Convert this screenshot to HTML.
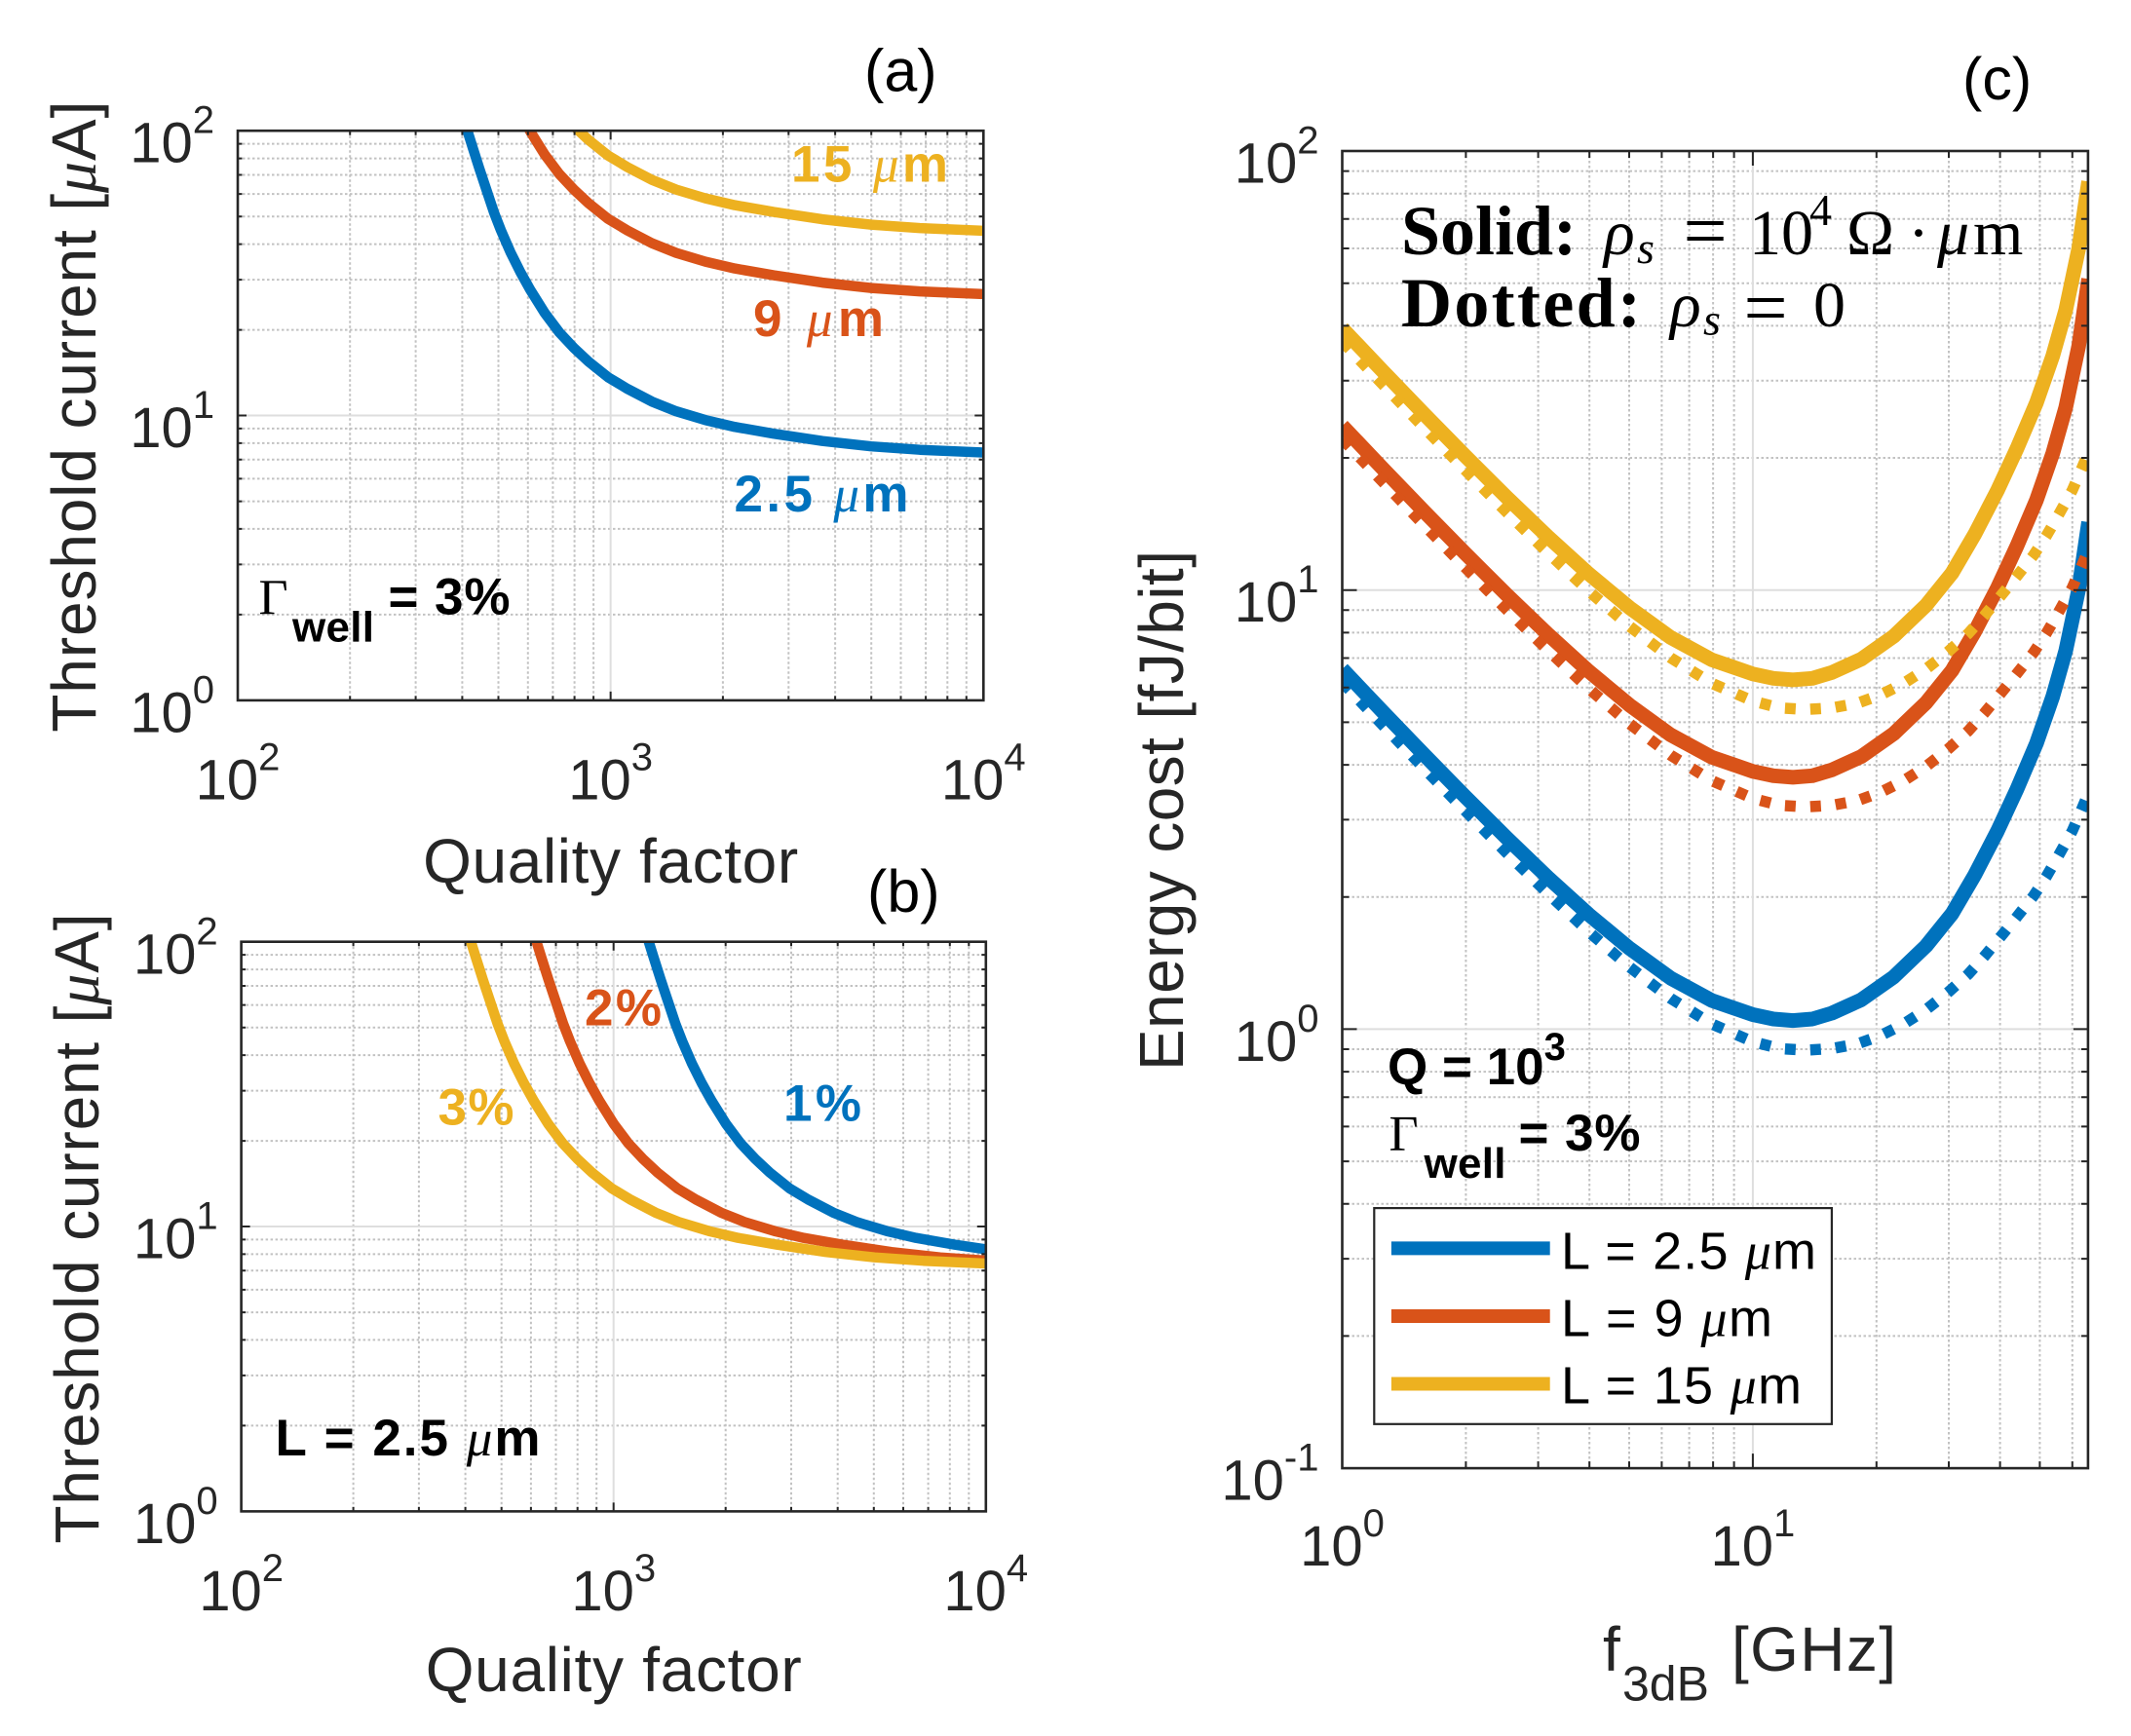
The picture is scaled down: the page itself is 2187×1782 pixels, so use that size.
<!DOCTYPE html>
<html><head><meta charset="utf-8">
<style>html,body{margin:0;padding:0;background:#fff}svg{display:block}</style>
</head><body>
<svg width="2187" height="1782" viewBox="0 0 2187 1782" xmlns="http://www.w3.org/2000/svg" font-family="'Liberation Sans', Arial, sans-serif">
<rect width="2187" height="1782" fill="#fff"/>
<defs>
<clipPath id="cA"><rect x="244" y="134.2" width="765.3" height="584.7"/></clipPath>
<clipPath id="cB"><rect x="247.6" y="966.7" width="764.2" height="584.7"/></clipPath>
<clipPath id="cC"><rect x="1377.5" y="155" width="765.4" height="1352.1"/></clipPath>
</defs>

<!-- ===== Panel (a) grid ===== -->
<path fill="none" stroke="#c2c2c2" stroke-width="2" stroke-dasharray="2.5 2.5" d="M359.2 134.2V718.9M426.6 134.2V718.9M474.4 134.2V718.9M511.5 134.2V718.9M541.8 134.2V718.9M567.4 134.2V718.9M589.6 134.2V718.9M609.1 134.2V718.9M741.9 134.2V718.9M809.3 134.2V718.9M857.1 134.2V718.9M894.2 134.2V718.9M924.5 134.2V718.9M950.1 134.2V718.9M972.3 134.2V718.9M991.8 134.2V718.9M244 630.9H1009.3M244 579.4H1009.3M244 542.9H1009.3M244 514.6H1009.3M244 491.4H1009.3M244 471.8H1009.3M244 454.9H1009.3M244 439.9H1009.3M244 338.6H1009.3M244 287.1H1009.3M244 250.6H1009.3M244 222.3H1009.3M244 199.1H1009.3M244 179.5H1009.3M244 162.6H1009.3M244 147.6H1009.3"/>
<path fill="none" stroke="#dedede" stroke-width="2" d="M626.65 134.2V718.9M244 426.55H1009.3"/>

<!-- ===== Panel (b) grid ===== -->
<path fill="none" stroke="#c2c2c2" stroke-width="2" stroke-dasharray="2.5 2.5" d="M362.6 966.7V1551.4M429.9 966.7V1551.4M477.6 966.7V1551.4M514.7 966.7V1551.4M544.9 966.7V1551.4M570.5 966.7V1551.4M592.7 966.7V1551.4M612.2 966.7V1551.4M744.7 966.7V1551.4M812 966.7V1551.4M859.7 966.7V1551.4M896.8 966.7V1551.4M927 966.7V1551.4M952.6 966.7V1551.4M974.8 966.7V1551.4M994.3 966.7V1551.4M247.6 1463.4H1011.8M247.6 1411.9H1011.8M247.6 1375.4H1011.8M247.6 1347.1H1011.8M247.6 1323.9H1011.8M247.6 1304.3H1011.8M247.6 1287.4H1011.8M247.6 1272.4H1011.8M247.6 1171.1H1011.8M247.6 1119.6H1011.8M247.6 1083.1H1011.8M247.6 1054.8H1011.8M247.6 1031.6H1011.8M247.6 1012H1011.8M247.6 995.1H1011.8M247.6 980.1H1011.8"/>
<path fill="none" stroke="#dedede" stroke-width="2" d="M629.7 966.7V1551.4M247.6 1259.05H1011.8"/>

<!-- ===== Panel (c) grid ===== -->
<path fill="none" stroke="#c2c2c2" stroke-width="2" stroke-dasharray="2.5 2.5" d="M1504.4 155V1507.1M1578.6 155V1507.1M1631.2 155V1507.1M1672 155V1507.1M1705.4 155V1507.1M1733.6 155V1507.1M1758.1 155V1507.1M1779.6 155V1507.1M1925.8 155V1507.1M2000 155V1507.1M2052.6 155V1507.1M2093.4 155V1507.1M2126.8 155V1507.1M1377.5 1371.4H2142.9M1377.5 1292.1H2142.9M1377.5 1235.8H2142.9M1377.5 1192.1H2142.9M1377.5 1156.4H2142.9M1377.5 1126.2H2142.9M1377.5 1100.1H2142.9M1377.5 1077H2142.9M1377.5 920.7H2142.9M1377.5 841.4H2142.9M1377.5 785.1H2142.9M1377.5 741.4H2142.9M1377.5 705.7H2142.9M1377.5 675.5H2142.9M1377.5 649.4H2142.9M1377.5 626.3H2142.9M1377.5 470H2142.9M1377.5 390.7H2142.9M1377.5 334.4H2142.9M1377.5 290.7H2142.9M1377.5 255H2142.9M1377.5 224.8H2142.9M1377.5 198.7H2142.9M1377.5 175.6H2142.9"/>
<path fill="none" stroke="#dedede" stroke-width="2" d="M1798.9 155V1507.1M1377.5 1056.4H2142.9M1377.5 605.7H2142.9"/>

<!-- ===== Panel (a) curves ===== -->
<g clip-path="url(#cA)" fill="none" stroke-width="10.5" stroke-linejoin="round">
<path transform="translate(244,134.2)" stroke="#0072BD" d="M230.7,-16 L235.7,0 L241,17 L248,39 L255,60 L263,84 L270,102 L280,125 L290,145 L300,163 L315,187 L330,207 L345,223 L360,237 L380,253 L400,265 L425,278 L450,288 L480,297 L510,304 L550,311 L600,318.5 L650,324 L700,327.5 L765,330.3 L780,331"/>
<path transform="translate(244,-28.4)" stroke="#D95319" d="M230.7,-16 L235.7,0 L241,17 L248,39 L255,60 L263,84 L270,102 L280,125 L290,145 L300,163 L315,187 L330,207 L345,223 L360,237 L380,253 L400,265 L425,278 L450,288 L480,297 L510,304 L550,311 L600,318.5 L650,324 L700,327.5 L765,330.3 L780,331"/>
<path transform="translate(244,-93.4)" stroke="#EDB120" d="M230.7,-16 L235.7,0 L241,17 L248,39 L255,60 L263,84 L270,102 L280,125 L290,145 L300,163 L315,187 L330,207 L345,223 L360,237 L380,253 L400,265 L425,278 L450,288 L480,297 L510,304 L550,311 L600,318.5 L650,324 L700,327.5 L765,330.3 L780,331"/>
</g>

<!-- ===== Panel (b) curves ===== -->
<g clip-path="url(#cB)" fill="none" stroke-width="10.5" stroke-linejoin="round">
<path transform="translate(314.9,966.7)" stroke="#D95319" d="M230.7,-16 L235.7,0 L241,17 L248,39 L255,60 L263,84 L270,102 L280,125 L290,145 L300,163 L315,187 L330,207 L345,223 L360,237 L380,253 L400,265 L425,278 L450,288 L480,297 L510,304 L550,311 L600,318.5 L650,324 L700,327.5 L765,330.3 L780,331"/>
<path transform="translate(430.1,966.7)" stroke="#0072BD" d="M230.7,-16 L235.7,0 L241,17 L248,39 L255,60 L263,84 L270,102 L280,125 L290,145 L300,163 L315,187 L330,207 L345,223 L360,237 L380,253 L400,265 L425,278 L450,288 L480,297 L510,304 L550,311 L600,318.5 L650,324 L700,327.5 L765,330.3 L780,331"/>
<path transform="translate(247.6,966.7)" stroke="#EDB120" d="M230.7,-16 L235.7,0 L241,17 L248,39 L255,60 L263,84 L270,102 L280,125 L290,145 L300,163 L315,187 L330,207 L345,223 L360,237 L380,253 L400,265 L425,278 L450,288 L480,297 L510,304 L550,311 L600,318.5 L650,324 L700,327.5 L765,330.3 L780,331"/>
</g>

<!-- ===== Panel (c) curves ===== -->
<g clip-path="url(#cC)" fill="none" stroke-linejoin="round">
<g stroke-width="15">
<path stroke="#0072BD" d="M1377.5,686.8 L1419.6,731.2 L1461.8,775 L1503.9,818 L1546.1,860 L1588.2,900.4 L1630.3,938.6 L1672.5,973.6 L1714.6,1004.1 L1756.8,1027 L1798.9,1041.5 L1820,1046 L1840,1047.6 L1860,1046 L1880,1040 L1910,1026.4 L1943.3,1003 L1976.7,971 L2003.3,938 L2026.7,898 L2050,853 L2070,810 L2090,763 L2106.7,715 L2120,668 L2133.3,605 L2143.5,536"/>
<path stroke="#D95319" transform="translate(0,-249.7)" d="M1377.5,686.8 L1419.6,731.2 L1461.8,775 L1503.9,818 L1546.1,860 L1588.2,900.4 L1630.3,938.6 L1672.5,973.6 L1714.6,1004.1 L1756.8,1027 L1798.9,1041.5 L1820,1046 L1840,1047.6 L1860,1046 L1880,1040 L1910,1026.4 L1943.3,1003 L1976.7,971 L2003.3,938 L2026.7,898 L2050,853 L2070,810 L2090,763 L2106.7,715 L2120,668 L2133.3,605 L2143.5,536"/>
<path stroke="#EDB120" transform="translate(0,-349.7)" d="M1377.5,686.8 L1419.6,731.2 L1461.8,775 L1503.9,818 L1546.1,860 L1588.2,900.4 L1630.3,938.6 L1672.5,973.6 L1714.6,1004.1 L1756.8,1027 L1798.9,1041.5 L1820,1046 L1840,1047.6 L1860,1046 L1880,1040 L1910,1026.4 L1943.3,1003 L1976.7,971 L2003.3,938 L2026.7,898 L2050,853 L2070,810 L2090,763 L2106.7,715 L2120,668 L2133.3,605 L2143.5,536"/>
</g>
<g stroke-width="11.5" stroke-dasharray="11 15">
<path stroke="#0072BD" d="M1377.5,700.3 L1419.6,744.8 L1461.8,789 L1503.9,832.5 L1546.1,875.3 L1588.2,916.8 L1630.3,956.3 L1672.5,992.7 L1714.6,1024.9 L1756.8,1051.1 L1798.9,1069.3 L1826.7,1076.4 L1853.3,1078 L1880,1076.4 L1906.7,1071.4 L1930,1063 L1953.3,1051.4 L1976.7,1036.4 L2000,1018 L2020,1000 L2036.7,981.4 L2053.3,961.4 L2070,941 L2086.7,920 L2100,900 L2113.3,877 L2126.7,853 L2136.7,830 L2143,815"/>
<path stroke="#D95319" transform="translate(0,-249.7)" d="M1377.5,700.3 L1419.6,744.8 L1461.8,789 L1503.9,832.5 L1546.1,875.3 L1588.2,916.8 L1630.3,956.3 L1672.5,992.7 L1714.6,1024.9 L1756.8,1051.1 L1798.9,1069.3 L1826.7,1076.4 L1853.3,1078 L1880,1076.4 L1906.7,1071.4 L1930,1063 L1953.3,1051.4 L1976.7,1036.4 L2000,1018 L2020,1000 L2036.7,981.4 L2053.3,961.4 L2070,941 L2086.7,920 L2100,900 L2113.3,877 L2126.7,853 L2136.7,830 L2143,815"/>
<path stroke="#EDB120" transform="translate(0,-349.7)" d="M1377.5,700.3 L1419.6,744.8 L1461.8,789 L1503.9,832.5 L1546.1,875.3 L1588.2,916.8 L1630.3,956.3 L1672.5,992.7 L1714.6,1024.9 L1756.8,1051.1 L1798.9,1069.3 L1826.7,1076.4 L1853.3,1078 L1880,1076.4 L1906.7,1071.4 L1930,1063 L1953.3,1051.4 L1976.7,1036.4 L2000,1018 L2020,1000 L2036.7,981.4 L2053.3,961.4 L2070,941 L2086.7,920 L2100,900 L2113.3,877 L2126.7,853 L2136.7,830 L2143,815"/>
</g>
</g>

<!-- ===== Ticks ===== -->
<path fill="none" stroke="#262626" stroke-width="2" d="M359.2 718.9v-4.5M359.2 134.2v4.5M426.6 718.9v-4.5M426.6 134.2v4.5M474.4 718.9v-4.5M474.4 134.2v4.5M511.5 718.9v-4.5M511.5 134.2v4.5M541.8 718.9v-4.5M541.8 134.2v4.5M567.4 718.9v-4.5M567.4 134.2v4.5M589.6 718.9v-4.5M589.6 134.2v4.5M609.1 718.9v-4.5M609.1 134.2v4.5M741.9 718.9v-4.5M741.9 134.2v4.5M809.3 718.9v-4.5M809.3 134.2v4.5M857.1 718.9v-4.5M857.1 134.2v4.5M894.2 718.9v-4.5M894.2 134.2v4.5M924.5 718.9v-4.5M924.5 134.2v4.5M950.1 718.9v-4.5M950.1 134.2v4.5M972.3 718.9v-4.5M972.3 134.2v4.5M991.8 718.9v-4.5M991.8 134.2v4.5M244 630.9h4.5M1009.3 630.9h-4.5M244 579.4h4.5M1009.3 579.4h-4.5M244 542.9h4.5M1009.3 542.9h-4.5M244 514.6h4.5M1009.3 514.6h-4.5M244 491.4h4.5M1009.3 491.4h-4.5M244 471.8h4.5M1009.3 471.8h-4.5M244 454.9h4.5M1009.3 454.9h-4.5M244 439.9h4.5M1009.3 439.9h-4.5M244 338.6h4.5M1009.3 338.6h-4.5M244 287.1h4.5M1009.3 287.1h-4.5M244 250.6h4.5M1009.3 250.6h-4.5M244 222.3h4.5M1009.3 222.3h-4.5M244 199.1h4.5M1009.3 199.1h-4.5M244 179.5h4.5M1009.3 179.5h-4.5M244 162.6h4.5M1009.3 162.6h-4.5M244 147.6h4.5M1009.3 147.6h-4.5M626.65 718.9v-9M626.65 134.2v9M244 426.55h9M1009.3 426.55h-9"/>
<path fill="none" stroke="#262626" stroke-width="2" d="M362.6 1551.4v-4.5M362.6 966.7v4.5M429.9 1551.4v-4.5M429.9 966.7v4.5M477.6 1551.4v-4.5M477.6 966.7v4.5M514.7 1551.4v-4.5M514.7 966.7v4.5M544.9 1551.4v-4.5M544.9 966.7v4.5M570.5 1551.4v-4.5M570.5 966.7v4.5M592.7 1551.4v-4.5M592.7 966.7v4.5M612.2 1551.4v-4.5M612.2 966.7v4.5M744.7 1551.4v-4.5M744.7 966.7v4.5M812 1551.4v-4.5M812 966.7v4.5M859.7 1551.4v-4.5M859.7 966.7v4.5M896.8 1551.4v-4.5M896.8 966.7v4.5M927 1551.4v-4.5M927 966.7v4.5M952.6 1551.4v-4.5M952.6 966.7v4.5M974.8 1551.4v-4.5M974.8 966.7v4.5M994.3 1551.4v-4.5M994.3 966.7v4.5M247.6 1463.4h4.5M1011.8 1463.4h-4.5M247.6 1411.9h4.5M1011.8 1411.9h-4.5M247.6 1375.4h4.5M1011.8 1375.4h-4.5M247.6 1347.1h4.5M1011.8 1347.1h-4.5M247.6 1323.9h4.5M1011.8 1323.9h-4.5M247.6 1304.3h4.5M1011.8 1304.3h-4.5M247.6 1287.4h4.5M1011.8 1287.4h-4.5M247.6 1272.4h4.5M1011.8 1272.4h-4.5M247.6 1171.1h4.5M1011.8 1171.1h-4.5M247.6 1119.6h4.5M1011.8 1119.6h-4.5M247.6 1083.1h4.5M1011.8 1083.1h-4.5M247.6 1054.8h4.5M1011.8 1054.8h-4.5M247.6 1031.6h4.5M1011.8 1031.6h-4.5M247.6 1012h4.5M1011.8 1012h-4.5M247.6 995.1h4.5M1011.8 995.1h-4.5M247.6 980.1h4.5M1011.8 980.1h-4.5M629.7 1551.4v-9M629.7 966.7v9M247.6 1259.05h9M1011.8 1259.05h-9"/>
<path fill="none" stroke="#262626" stroke-width="2" d="M1504.4 1507.1v-7M1504.4 155v7M1578.6 1507.1v-7M1578.6 155v7M1631.2 1507.1v-7M1631.2 155v7M1672 1507.1v-7M1672 155v7M1705.4 1507.1v-7M1705.4 155v7M1733.6 1507.1v-7M1733.6 155v7M1758.1 1507.1v-7M1758.1 155v7M1779.6 1507.1v-7M1779.6 155v7M1925.8 1507.1v-7M1925.8 155v7M2000 1507.1v-7M2000 155v7M2052.6 1507.1v-7M2052.6 155v7M2093.4 1507.1v-7M2093.4 155v7M2126.8 1507.1v-7M2126.8 155v7M1377.5 1371.4h7M2142.9 1371.4h-7M1377.5 1292.1h7M2142.9 1292.1h-7M1377.5 1235.8h7M2142.9 1235.8h-7M1377.5 1192.1h7M2142.9 1192.1h-7M1377.5 1156.4h7M2142.9 1156.4h-7M1377.5 1126.2h7M2142.9 1126.2h-7M1377.5 1100.1h7M2142.9 1100.1h-7M1377.5 1077h7M2142.9 1077h-7M1377.5 920.7h7M2142.9 920.7h-7M1377.5 841.4h7M2142.9 841.4h-7M1377.5 785.1h7M2142.9 785.1h-7M1377.5 741.4h7M2142.9 741.4h-7M1377.5 705.7h7M2142.9 705.7h-7M1377.5 675.5h7M2142.9 675.5h-7M1377.5 649.4h7M2142.9 649.4h-7M1377.5 626.3h7M2142.9 626.3h-7M1377.5 470h7M2142.9 470h-7M1377.5 390.7h7M2142.9 390.7h-7M1377.5 334.4h7M2142.9 334.4h-7M1377.5 290.7h7M2142.9 290.7h-7M1377.5 255h7M2142.9 255h-7M1377.5 224.8h7M2142.9 224.8h-7M1377.5 198.7h7M2142.9 198.7h-7M1377.5 175.6h7M2142.9 175.6h-7M1798.9 1507.1v-15M1798.9 155v15M1377.5 1056.4h15M2142.9 1056.4h-15M1377.5 605.7h15M2142.9 605.7h-15"/>

<!-- ===== Axes boxes ===== -->
<g fill="none" stroke="#262626" stroke-width="2.6">
<rect x="244" y="134.2" width="765.3" height="584.7"/>
<rect x="247.6" y="966.7" width="764.2" height="584.7"/>
<rect x="1377.5" y="155" width="765.4" height="1352.1"/>
</g>

<!-- ===== Legend ===== -->
<rect x="1410.3" y="1240.1" width="469.6" height="221.7" fill="#fff" stroke="#262626" stroke-width="2.2"/>
<g stroke-width="14">
<line x1="1427.9" y1="1281.4" x2="1590.7" y2="1281.4" stroke="#0072BD"/>
<line x1="1427.9" y1="1351" x2="1590.7" y2="1351" stroke="#D95319"/>
<line x1="1427.9" y1="1420.5" x2="1590.7" y2="1420.5" stroke="#EDB120"/>
</g>
<g font-size="54" fill="#000">
<text x="1602" y="1302.3" textLength="262">L = 2.5 <tspan font-family="'Liberation Serif', serif" font-style="italic">μ</tspan>m</text>
<text x="1602" y="1371.6" textLength="217">L = 9 <tspan font-family="'Liberation Serif', serif" font-style="italic">μ</tspan>m</text>
<text x="1602" y="1440.6" textLength="247">L = 15 <tspan font-family="'Liberation Serif', serif" font-style="italic">μ</tspan>m</text>
</g>

<!-- ===== Panel titles ===== -->
<g font-size="61" fill="#000">
<text x="887" y="93.4">(a)</text>
<text x="890" y="936">(b)</text>
<text x="2014" y="102">(c)</text>
</g>

<!-- ===== Tick labels ===== -->
<g font-size="58" fill="#262626">
<text x="220" y="166.7" text-anchor="end">10<tspan dy="-30" font-size="40">2</tspan></text>
<text x="220" y="459" text-anchor="end">10<tspan dy="-30" font-size="40">1</tspan></text>
<text x="220" y="751.4" text-anchor="end">10<tspan dy="-30" font-size="40">0</tspan></text>
<text x="244" y="820.4" text-anchor="middle">10<tspan dy="-30" font-size="40">2</tspan></text>
<text x="626.65" y="820.4" text-anchor="middle">10<tspan dy="-30" font-size="40">3</tspan></text>
<text x="1009.3" y="820.4" text-anchor="middle">10<tspan dy="-30" font-size="40">4</tspan></text>

<text x="223.6" y="999.7" text-anchor="end">10<tspan dy="-30" font-size="40">2</tspan></text>
<text x="223.6" y="1291.6" text-anchor="end">10<tspan dy="-30" font-size="40">1</tspan></text>
<text x="223.6" y="1583.9" text-anchor="end">10<tspan dy="-30" font-size="40">0</tspan></text>
<text x="247.6" y="1653" text-anchor="middle">10<tspan dy="-30" font-size="40">2</tspan></text>
<text x="629.7" y="1653" text-anchor="middle">10<tspan dy="-30" font-size="40">3</tspan></text>
<text x="1011.8" y="1653" text-anchor="middle">10<tspan dy="-30" font-size="40">4</tspan></text>

<text x="1353.5" y="187.5" text-anchor="end">10<tspan dy="-30" font-size="40">2</tspan></text>
<text x="1353.5" y="638.2" text-anchor="end">10<tspan dy="-30" font-size="40">1</tspan></text>
<text x="1353.5" y="1088.9" text-anchor="end">10<tspan dy="-30" font-size="40">0</tspan></text>
<text x="1353.5" y="1539.6" text-anchor="end">10<tspan dy="-30" font-size="40">-1</tspan></text>
<text x="1377.5" y="1607" text-anchor="middle">10<tspan dy="-30" font-size="40">0</tspan></text>
<text x="1798.9" y="1607" text-anchor="middle">10<tspan dy="-30" font-size="40">1</tspan></text>
</g>

<!-- ===== Axis labels ===== -->
<g font-size="64" fill="#262626">
<text x="626.65" y="906" text-anchor="middle" textLength="385">Quality factor</text>
<text x="629.7" y="1736" text-anchor="middle" textLength="386">Quality factor</text>
<text transform="translate(98,427.6) rotate(-90)" text-anchor="middle" textLength="648">Threshold current [<tspan font-family="'Liberation Serif', serif" font-style="italic">μ</tspan>A]</text>
<text transform="translate(101,1261) rotate(-90)" text-anchor="middle" textLength="647">Threshold current [<tspan font-family="'Liberation Serif', serif" font-style="italic">μ</tspan>A]</text>
<text transform="translate(1214,832) rotate(-90)" text-anchor="middle" textLength="534">Energy cost [fJ/bit]</text>
<text x="1645" y="1715">f</text>
<text x="1665" y="1745.5" font-size="50">3dB</text>
<text x="1777" y="1715" textLength="169">[GHz]</text>
</g>

<!-- ===== Panel (a) annotations ===== -->
<g font-size="53" font-weight="bold">
<text x="812" y="186.7" fill="#EDB120" textLength="161">15 <tspan font-family="'Liberation Serif', serif" font-style="italic" font-weight="normal">μ</tspan>m</text>
<text x="773" y="344.9" fill="#D95319" textLength="134">9 <tspan font-family="'Liberation Serif', serif" font-style="italic" font-weight="normal">μ</tspan>m</text>
<text x="753.5" y="525" fill="#0072BD" textLength="179">2.5 <tspan font-family="'Liberation Serif', serif" font-style="italic" font-weight="normal">μ</tspan>m</text>
</g>
<text x="265.5" y="630.6" font-family="'Liberation Serif', serif" font-size="52" fill="#000">Γ</text>
<text x="300" y="658.7" font-size="44" font-weight="bold" fill="#000" textLength="84">well</text>
<text x="398.5" y="630.6" font-size="53" font-weight="bold" fill="#000" textLength="125">= 3%</text>

<!-- ===== Panel (b) annotations ===== -->
<g font-size="53" font-weight="bold">
<text x="600" y="1052.4" fill="#D95319" textLength="79">2%</text>
<text x="449.5" y="1154.5" fill="#EDB120" textLength="78">3%</text>
<text x="804" y="1150.4" fill="#0072BD" textLength="80">1%</text>
<text x="282.5" y="1493.8" fill="#000" textLength="272">L = 2.5 <tspan font-family="'Liberation Serif', serif" font-style="italic" font-weight="normal">μ</tspan>m</text>
</g>

<!-- ===== Panel (c) annotations ===== -->
<text x="1424" y="1113" font-size="53" font-weight="bold" fill="#000">Q = 10<tspan dy="-25" font-size="40">3</tspan></text>
<text x="1425.5" y="1181.2" font-family="'Liberation Serif', serif" font-size="52" fill="#000">Γ</text>
<text x="1461.5" y="1208.9" font-size="44" font-weight="bold" fill="#000" textLength="84">well</text>
<text x="1558.5" y="1181.2" font-size="53" font-weight="bold" fill="#000" textLength="125">= 3%</text>

<g font-family="'Liberation Serif', serif" fill="#000" font-size="66">
<text x="1438" y="261.2" font-weight="bold" font-size="72">Solid:</text>
<text x="1646" y="261.2" font-style="italic">ρ</text>
<text x="1680" y="270" font-style="italic" font-size="46">s</text>
<text x="1727.5" y="263.5" font-size="80">=</text>
<text x="1795" y="261.2">10</text>
<text x="1857" y="231" font-size="46">4</text>
<text x="1895" y="261.2">Ω</text>
<text x="1958" y="261.2">·</text>
<text x="1988" y="261.2" font-style="italic">μ</text>
<text x="2025" y="261.2" textLength="58">m</text>

<text x="1438" y="334.8" font-weight="bold" font-size="72" textLength="246">Dotted:</text>
<text x="1714" y="334.8" font-style="italic">ρ</text>
<text x="1748" y="343.6" font-style="italic" font-size="46">s</text>
<text x="1789.5" y="342.6" font-size="80">=</text>
<text x="1861" y="334.8">0</text>
</g>
</svg>
</body></html>
